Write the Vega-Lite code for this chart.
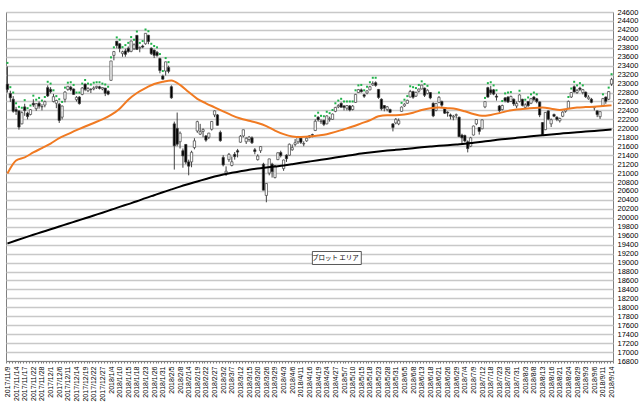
{
  "$schema": "https://vega.github.io/schema/vega-lite/v6.json",
  "width": 607,
  "height": 349,
  "autosize": {"type": "none"},
  "padding": {"left": 6, "top": 12, "right": 31, "bottom": 59},
  "background": "white",
  "config": {
    "view": {"stroke": "#808080", "strokeWidth": 1},
    "font": "Liberation Sans"
  },
  "datasets": {
    "k": [
{"d":"2017/11/9","o":22990,"h":23382,"l":22800,"c":22869,"m1":20990,"m2":19426,"g":23462},
{"d":"2017/11/10","o":22780,"h":22840,"l":22590,"c":22681,"g":22920},
{"d":"2017/11/13","o":22650,"h":22720,"l":22350,"c":22381,"g":22800},
{"d":"2017/11/14","o":22420,"h":22480,"l":22300,"c":22380,"m1":21280,"m2":19493,"g":22560},
{"d":"2017/11/15","o":22390,"h":22400,"l":21970,"c":22028,"g":22480},
{"d":"2017/11/16","o":22100,"h":22380,"l":22090,"c":22351,"g":22460},
{"d":"2017/11/17","o":22480,"h":22550,"l":22280,"c":22397,"m1":21350,"m2":19558,"g":22630},
{"d":"2017/11/20","o":22340,"h":22370,"l":22200,"c":22262,"g":22450},
{"d":"2017/11/21","o":22310,"h":22430,"l":22290,"c":22416,"g":22510},
{"d":"2017/11/22","o":22560,"h":22650,"l":22480,"c":22523,"m1":21460,"m2":19620,"g":22730},
{"d":"2017/11/24","o":22440,"h":22560,"l":22390,"c":22551,"g":22640},
{"d":"2017/11/27","o":22560,"h":22600,"l":22440,"c":22496,"g":22680},
{"d":"2017/11/28","o":22480,"h":22540,"l":22400,"c":22486,"m1":21560,"m2":19683,"g":22620},
{"d":"2017/11/29","o":22520,"h":22620,"l":22470,"c":22597,"g":22700},
{"d":"2017/11/30","o":22910,"h":22960,"l":22700,"c":22725,"g":23040},
{"d":"2017/12/1","o":22870,"h":22920,"l":22780,"c":22819,"m1":21660,"m2":19743,"g":23000},
{"d":"2017/12/4","o":22600,"h":22770,"l":22580,"c":22707,"g":22850},
{"d":"2017/12/5","o":22560,"h":22640,"l":22450,"c":22622,"g":22720},
{"d":"2017/12/6","o":22540,"h":22570,"l":22120,"c":22177,"m1":21780,"m2":19806,"g":22650},
{"d":"2017/12/7","o":22250,"h":22510,"l":22200,"c":22498,"g":22590},
{"d":"2017/12/8","o":22650,"h":22830,"l":22580,"c":22811,"g":22910},
{"d":"2017/12/11","o":22870,"h":22940,"l":22840,"c":22939,"m1":21870,"m2":19866,"g":23020},
{"d":"2017/12/12","o":22920,"h":22950,"l":22830,"c":22866,"g":23030},
{"d":"2017/12/13","o":22880,"h":22890,"l":22750,"c":22758,"g":22970},
{"d":"2017/12/14","o":22640,"h":22720,"l":22600,"c":22694,"m1":21960,"m2":19929,"g":22800},
{"d":"2017/12/15","o":22700,"h":22720,"l":22530,"c":22553,"g":22800},
{"d":"2017/12/18","o":22760,"h":22920,"l":22740,"c":22902,"g":23000},
{"d":"2017/12/19","o":22990,"h":23000,"l":22830,"c":22868,"m1":22040,"m2":19989,"g":23080},
{"d":"2017/12/20","o":22840,"h":22920,"l":22810,"c":22892,"g":23000},
{"d":"2017/12/21","o":22870,"h":22900,"l":22790,"c":22866,"g":22980},
{"d":"2017/12/22","o":22880,"h":22940,"l":22850,"c":22903,"m1":22120,"m2":20052,"g":23020},
{"d":"2017/12/25","o":22910,"h":22950,"l":22880,"c":22939,"g":23030},
{"d":"2017/12/26","o":22930,"h":22950,"l":22870,"c":22893,"g":23030},
{"d":"2017/12/27","o":22880,"h":22920,"l":22850,"c":22911,"m1":22200,"m2":20114,"g":23000},
{"d":"2017/12/28","o":22900,"h":22900,"l":22720,"c":22784,"g":22980},
{"d":"2017/12/29","o":22830,"h":22850,"l":22740,"c":22765,"g":22930},
{"d":"2018/1/4","o":23073,"h":23506,"l":23065,"c":23506,"m1":22300,"m2":20179,"g":23586},
{"d":"2018/1/5","o":23630,"h":23730,"l":23520,"c":23715,"g":23810},
{"d":"2018/1/9","o":23948,"h":23952,"l":23789,"c":23850,"g":24032},
{"d":"2018/1/10","o":23890,"h":23900,"l":23700,"c":23788,"m1":22440,"m2":20244,"g":23980},
{"d":"2018/1/11","o":23670,"h":23735,"l":23600,"c":23710,"g":23815},
{"d":"2018/1/12","o":23730,"h":23780,"l":23600,"c":23654,"g":23860},
{"d":"2018/1/15","o":23790,"h":23830,"l":23690,"c":23715,"m1":22640,"m2":20306,"g":23910},
{"d":"2018/1/16","o":23720,"h":23960,"l":23700,"c":23952,"g":24040},
{"d":"2018/1/17","o":23780,"h":23900,"l":23750,"c":23868,"g":23980},
{"d":"2018/1/18","o":24078,"h":24084,"l":23750,"c":23763,"m1":22790,"m2":20369,"g":24164},
{"d":"2018/1/19","o":23790,"h":23830,"l":23700,"c":23808,"g":23910},
{"d":"2018/1/22","o":23840,"h":23870,"l":23790,"c":23816,"g":23950},
{"d":"2018/1/23","o":23890,"h":24129,"l":23870,"c":24124,"m1":22900,"m2":20440,"g":24209},
{"d":"2018/1/24","o":24080,"h":24090,"l":23880,"c":23941,"g":24170},
{"d":"2018/1/25","o":23790,"h":23810,"l":23640,"c":23669,"g":23890},
{"d":"2018/1/26","o":23750,"h":23760,"l":23570,"c":23632,"m1":22990,"m2":20505,"g":23840},
{"d":"2018/1/29","o":23700,"h":23730,"l":23600,"c":23629,"g":23810},
{"d":"2018/1/30","o":23560,"h":23580,"l":23230,"c":23292,"g":23660},
{"d":"2018/1/31","o":23170,"h":23200,"l":23090,"c":23098,"m1":23040,"m2":20570,"g":23280},
{"d":"2018/2/1","o":23280,"h":23490,"l":23180,"c":23486,"g":23570},
{"d":"2018/2/2","o":23360,"h":23400,"l":23230,"c":23274,"g":23480},
{"d":"2018/2/5","o":22930,"h":22960,"l":22660,"c":22682,"m1":23070,"m2":20635},
{"d":"2018/2/6","o":22100,"h":22150,"l":21078,"c":21610},
{"d":"2018/2/7","o":22000,"h":22353,"l":21600,"c":21645},
{"d":"2018/2/8","o":21700,"h":21930,"l":21550,"c":21891,"m1":22970,"m2":20698},
{"d":"2018/2/9","o":21500,"h":21550,"l":21120,"c":21383},
{"d":"2018/2/13","o":21640,"h":21650,"l":21200,"c":21245},
{"d":"2018/2/14","o":21250,"h":21300,"l":20950,"c":21154,"m1":22810,"m2":20756},
{"d":"2018/2/15","o":21250,"h":21500,"l":21130,"c":21465},
{"d":"2018/2/16","o":21570,"h":21780,"l":21530,"c":21720},
{"d":"2018/2/19","o":21940,"h":22170,"l":21900,"c":22149,"m1":22660,"m2":20812},
{"d":"2018/2/20","o":21870,"h":22100,"l":21850,"c":21925},
{"d":"2018/2/21","o":21930,"h":22000,"l":21800,"c":21971},
{"d":"2018/2/22","o":21830,"h":21850,"l":21700,"c":21736,"m1":22560,"m2":20868},
{"d":"2018/2/23","o":21800,"h":21900,"l":21760,"c":21893},
{"d":"2018/2/26","o":21980,"h":22160,"l":21950,"c":22154},
{"d":"2018/2/27","o":22300,"h":22400,"l":22250,"c":22390,"m1":22470,"m2":20923},
{"d":"2018/2/28","o":22300,"h":22320,"l":22060,"c":22068},
{"d":"2018/3/1","o":21910,"h":21950,"l":21700,"c":21724},
{"d":"2018/3/2","o":21350,"h":21400,"l":21150,"c":21182,"m1":22380,"m2":20970},
{"d":"2018/3/5","o":21000,"h":21150,"l":20937,"c":21042},
{"d":"2018/3/6","o":21300,"h":21450,"l":21250,"c":21418},
{"d":"2018/3/7","o":21170,"h":21370,"l":21150,"c":21253,"m1":22290,"m2":21006},
{"d":"2018/3/8","o":21420,"h":21470,"l":21300,"c":21368},
{"d":"2018/3/9","o":21500,"h":21540,"l":21350,"c":21469},
{"d":"2018/3/12","o":21690,"h":21850,"l":21680,"c":21824,"m1":22220,"m2":21040},
{"d":"2018/3/13","o":21830,"h":21970,"l":21800,"c":21968},
{"d":"2018/3/14","o":21700,"h":21800,"l":21650,"c":21777},
{"d":"2018/3/15","o":21750,"h":21830,"l":21700,"c":21804,"m1":22170,"m2":21075},
{"d":"2018/3/16","o":21790,"h":21820,"l":21650,"c":21677},
{"d":"2018/3/19","o":21520,"h":21560,"l":21420,"c":21481},
{"d":"2018/3/20","o":21300,"h":21420,"l":21280,"c":21381,"m1":22120,"m2":21102},
{"d":"2018/3/22","o":21500,"h":21600,"l":21450,"c":21592},
{"d":"2018/3/23","o":21200,"h":21230,"l":20617,"c":20617},
{"d":"2018/3/26","o":20500,"h":20770,"l":20347,"c":20766,"m1":22050,"m2":21125},
{"d":"2018/3/27","o":21000,"h":21320,"l":20950,"c":21317},
{"d":"2018/3/28","o":21200,"h":21230,"l":20900,"c":21031},
{"d":"2018/3/29","o":20900,"h":21180,"l":20880,"c":21159,"m1":21950,"m2":21147},
{"d":"2018/3/30","o":21300,"h":21460,"l":21290,"c":21454},
{"d":"2018/4/2","o":21460,"h":21500,"l":21350,"c":21389},
{"d":"2018/4/3","o":21100,"h":21300,"l":21050,"c":21292,"m1":21870,"m2":21169},
{"d":"2018/4/4","o":21400,"h":21420,"l":21250,"c":21320},
{"d":"2018/4/5","o":21400,"h":21660,"l":21390,"c":21645},
{"d":"2018/4/6","o":21520,"h":21640,"l":21500,"c":21568,"m1":21820,"m2":21198},
{"d":"2018/4/9","o":21640,"h":21760,"l":21600,"c":21678},
{"d":"2018/4/10","o":21700,"h":21830,"l":21650,"c":21794},
{"d":"2018/4/11","o":21780,"h":21800,"l":21650,"c":21687,"m1":21806,"m2":21230},
{"d":"2018/4/12","o":21650,"h":21710,"l":21600,"c":21660},
{"d":"2018/4/13","o":21720,"h":21800,"l":21700,"c":21779},
{"d":"2018/4/16","o":21800,"h":21850,"l":21780,"c":21836,"m1":21815,"m2":21259},
{"d":"2018/4/17","o":21860,"h":21880,"l":21800,"c":21848},
{"d":"2018/4/18","o":21950,"h":22200,"l":21940,"c":22158,"g":22280},
{"d":"2018/4/19","o":22250,"h":22270,"l":22150,"c":22191,"m1":21840,"m2":21288,"g":22350},
{"d":"2018/4/20","o":22150,"h":22200,"l":22100,"c":22162,"g":22280},
{"d":"2018/4/23","o":22180,"h":22190,"l":22050,"c":22088,"g":22270},
{"d":"2018/4/24","o":22100,"h":22290,"l":22090,"c":22278,"m1":21870,"m2":21317,"g":22370},
{"d":"2018/4/25","o":22200,"h":22260,"l":22150,"c":22215,"g":22340},
{"d":"2018/4/26","o":22200,"h":22330,"l":22190,"c":22320,"g":22410},
{"d":"2018/4/27","o":22380,"h":22480,"l":22360,"c":22468,"m1":21920,"m2":21348,"g":22560},
{"d":"2018/5/1","o":22480,"h":22540,"l":22450,"c":22508,"g":22620},
{"d":"2018/5/2","o":22560,"h":22580,"l":22460,"c":22473,"g":22660},
{"d":"2018/5/7","o":22500,"h":22520,"l":22400,"c":22467,"m1":21980,"m2":21377,"g":22600},
{"d":"2018/5/8","o":22450,"h":22520,"l":22400,"c":22509,"g":22600},
{"d":"2018/5/9","o":22500,"h":22520,"l":22380,"c":22409,"g":22600},
{"d":"2018/5/10","o":22420,"h":22520,"l":22400,"c":22497,"m1":22040,"m2":21406,"g":22600},
{"d":"2018/5/11","o":22580,"h":22770,"l":22570,"c":22758,"g":22850},
{"d":"2018/5/14","o":22800,"h":22880,"l":22790,"c":22866,"g":22960},
{"d":"2018/5/15","o":22860,"h":22890,"l":22800,"c":22818,"m1":22110,"m2":21435,"g":22970},
{"d":"2018/5/16","o":22750,"h":22770,"l":22680,"c":22717,"g":22850},
{"d":"2018/5/17","o":22790,"h":22850,"l":22760,"c":22838,"g":22930},
{"d":"2018/5/18","o":22860,"h":22950,"l":22850,"c":22930,"m1":22180,"m2":21460,"g":23030},
{"d":"2018/5/21","o":22970,"h":23050,"l":22950,"c":23002,"g":23130},
{"d":"2018/5/22","o":23020,"h":23050,"l":22930,"c":22960,"g":23130},
{"d":"2018/5/23","o":22870,"h":22880,"l":22660,"c":22690,"m1":22270,"m2":21482},
{"d":"2018/5/24","o":22650,"h":22670,"l":22400,"c":22437},
{"d":"2018/5/25","o":22510,"h":22520,"l":22380,"c":22451},
{"d":"2018/5/28","o":22420,"h":22500,"l":22380,"c":22481,"m1":22295,"m2":21502},
{"d":"2018/5/29","o":22420,"h":22440,"l":22340,"c":22358},
{"d":"2018/5/30","o":22100,"h":22110,"l":21931,"c":22019},
{"d":"2018/5/31","o":22120,"h":22230,"l":22090,"c":22202,"m1":22292,"m2":21520},
{"d":"2018/6/1","o":22100,"h":22220,"l":22070,"c":22171},
{"d":"2018/6/4","o":22380,"h":22490,"l":22370,"c":22476,"g":22570},
{"d":"2018/6/5","o":22500,"h":22560,"l":22480,"c":22540,"m1":22310,"m2":21538,"g":22640},
{"d":"2018/6/6","o":22560,"h":22640,"l":22550,"c":22626,"g":22720},
{"d":"2018/6/7","o":22700,"h":22860,"l":22690,"c":22823,"g":22940},
{"d":"2018/6/8","o":22820,"h":22840,"l":22660,"c":22695,"m1":22350,"m2":21556,"g":22920},
{"d":"2018/6/11","o":22720,"h":22820,"l":22700,"c":22804,"g":22900},
{"d":"2018/6/12","o":22830,"h":22890,"l":22800,"c":22878,"g":22970},
{"d":"2018/6/13","o":22880,"h":22970,"l":22870,"c":22966,"m1":22410,"m2":21576,"g":23050},
{"d":"2018/6/14","o":22900,"h":22910,"l":22700,"c":22739,"g":22990},
{"d":"2018/6/15","o":22780,"h":22870,"l":22760,"c":22852,"g":22950},
{"d":"2018/6/18","o":22800,"h":22810,"l":22650,"c":22680,"m1":22450,"m2":21594},
{"d":"2018/6/19","o":22560,"h":22580,"l":22250,"c":22278},
{"d":"2018/6/20","o":22400,"h":22570,"l":22380,"c":22555},
{"d":"2018/6/21","o":22580,"h":22720,"l":22560,"c":22693,"m1":22463,"m2":21610,"g":22800},
{"d":"2018/6/22","o":22600,"h":22620,"l":22480,"c":22517},
{"d":"2018/6/25","o":22440,"h":22450,"l":22320,"c":22338},
{"d":"2018/6/26","o":22360,"h":22380,"l":22260,"c":22342,"m1":22450,"m2":21623},
{"d":"2018/6/27","o":22300,"h":22330,"l":22200,"c":22272},
{"d":"2018/6/28","o":22250,"h":22300,"l":22180,"c":22270},
{"d":"2018/6/29","o":22290,"h":22330,"l":22220,"c":22305,"m1":22430,"m2":21639},
{"d":"2018/7/2","o":22250,"h":22260,"l":21810,"c":21812},
{"d":"2018/7/3","o":21850,"h":21880,"l":21660,"c":21786},
{"d":"2018/7/4","o":21840,"h":21860,"l":21690,"c":21717,"m1":22380,"m2":21654},
{"d":"2018/7/5","o":21700,"h":21730,"l":21462,"c":21547},
{"d":"2018/7/6","o":21600,"h":21810,"l":21580,"c":21788},
{"d":"2018/7/9","o":21850,"h":22060,"l":21840,"c":22052,"m1":22320,"m2":21677},
{"d":"2018/7/10","o":22100,"h":22200,"l":22070,"c":22197},
{"d":"2018/7/11","o":22020,"h":22030,"l":21860,"c":21932},
{"d":"2018/7/12","o":21990,"h":22200,"l":21980,"c":22188,"m1":22280,"m2":21701},
{"d":"2018/7/13","o":22480,"h":22600,"l":22450,"c":22597,"g":22680},
{"d":"2018/7/17","o":22910,"h":22930,"l":22690,"c":22698,"g":23010},
{"d":"2018/7/18","o":22860,"h":22950,"l":22750,"c":22794,"m1":22300,"m2":21724,"g":23030},
{"d":"2018/7/19","o":22860,"h":22880,"l":22740,"c":22765,"g":22960},
{"d":"2018/7/20","o":22720,"h":22770,"l":22620,"c":22697,"g":22850},
{"d":"2018/7/23","o":22500,"h":22520,"l":22350,"c":22397,"m1":22340,"m2":21748},
{"d":"2018/7/24","o":22420,"h":22530,"l":22400,"c":22510,"g":22610},
{"d":"2018/7/25","o":22680,"h":22700,"l":22580,"c":22614,"g":22780},
{"d":"2018/7/26","o":22700,"h":22720,"l":22570,"c":22587,"m1":22390,"m2":21768,"g":22800},
{"d":"2018/7/27","o":22600,"h":22730,"l":22590,"c":22713,"g":22810},
{"d":"2018/7/30","o":22650,"h":22670,"l":22500,"c":22545},
{"d":"2018/7/31","o":22500,"h":22600,"l":22450,"c":22554,"m1":22420,"m2":21788},
{"d":"2018/8/1","o":22600,"h":22760,"l":22580,"c":22747,"g":22840},
{"d":"2018/8/2","o":22650,"h":22660,"l":22490,"c":22513},
{"d":"2018/8/3","o":22470,"h":22560,"l":22450,"c":22525,"m1":22440,"m2":21808,"g":22640},
{"d":"2018/8/6","o":22600,"h":22610,"l":22480,"c":22507,"g":22690},
{"d":"2018/8/7","o":22560,"h":22680,"l":22540,"c":22663,"g":22760},
{"d":"2018/8/8","o":22700,"h":22720,"l":22610,"c":22644,"m1":22455,"m2":21826,"g":22800},
{"d":"2018/8/9","o":22660,"h":22680,"l":22560,"c":22598,"g":22760},
{"d":"2018/8/10","o":22590,"h":22600,"l":22250,"c":22298},
{"d":"2018/8/13","o":22130,"h":22140,"l":21851,"c":21857,"m1":22463,"m2":21844},
{"d":"2018/8/14","o":21970,"h":22360,"l":21960,"c":22356},
{"d":"2018/8/15","o":22390,"h":22400,"l":22180,"c":22204},
{"d":"2018/8/16","o":22100,"h":22220,"l":22030,"c":22192,"m1":22440,"m2":21862},
{"d":"2018/8/17","o":22310,"h":22330,"l":22250,"c":22270},
{"d":"2018/8/20","o":22250,"h":22270,"l":22160,"c":22199},
{"d":"2018/8/21","o":22170,"h":22240,"l":22130,"c":22220,"m1":22410,"m2":21880},
{"d":"2018/8/22","o":22270,"h":22380,"l":22250,"c":22363},
{"d":"2018/8/23","o":22380,"h":22430,"l":22350,"c":22411},
{"d":"2018/8/24","o":22450,"h":22620,"l":22440,"c":22602,"m1":22440,"m2":21898,"g":22700},
{"d":"2018/8/27","o":22700,"h":22810,"l":22680,"c":22800,"g":22890},
{"d":"2018/8/28","o":22930,"h":22960,"l":22800,"c":22813,"g":23040},
{"d":"2018/8/29","o":22800,"h":22880,"l":22770,"c":22848,"m1":22463,"m2":21913,"g":22960},
{"d":"2018/8/30","o":22900,"h":22930,"l":22830,"c":22870,"g":23010},
{"d":"2018/8/31","o":22800,"h":22880,"l":22760,"c":22865,"g":22960},
{"d":"2018/9/3","o":22810,"h":22820,"l":22680,"c":22707,"m1":22475,"m2":21929},
{"d":"2018/9/4","o":22660,"h":22740,"l":22640,"c":22697},
{"d":"2018/9/5","o":22650,"h":22680,"l":22560,"c":22581},
{"d":"2018/9/6","o":22460,"h":22500,"l":22400,"c":22488,"m1":22485,"m2":21943},
{"d":"2018/9/7","o":22390,"h":22400,"l":22250,"c":22307},
{"d":"2018/9/10","o":22260,"h":22380,"l":22210,"c":22373},
{"d":"2018/9/11","o":22500,"h":22680,"l":22480,"c":22665,"m1":22500,"m2":21958,"g":22760},
{"d":"2018/9/12","o":22700,"h":22710,"l":22550,"c":22605},
{"d":"2018/9/13","o":22650,"h":22830,"l":22630,"c":22821,"g":22910},
{"d":"2018/9/14","o":22990,"h":23130,"l":22950,"c":23095,"m1":22515,"m2":21974,"g":23210}
    ],
    "tip": [{"a":"2018/4/17","b":"2018/5/15","d":"2018/4/27","y1":19247,"y2":18957,"yt":19102,"t":"プロット エリア"}]
  },
  "data": {"name": "k"},
  "layer": [
    {
      "mark": {"type": "rule", "color": "#404040", "strokeWidth": 1},
      "encoding": {
        "x": {
          "field": "d", "type": "ordinal", "sort": null,
          "scale": {"type": "band", "paddingInner": 0, "paddingOuter": 0},
          "axis": {
            "title": null, "orient": "bottom", "grid": false,
            "domain": true, "domainColor": "#808080",
            "ticks": true, "tickSize": 2, "tickColor": "#808080", "tickBand": "extent",
            "labelAngle": 270, "labelFontSize": 7, "labelColor": "#000000",
            "labelPadding": 3, "labelOverlap": false, "labelBound": false,
            "labelFont": "Liberation Sans",
            "labelExpr": "round(datum.index * 210) % 3 === 0 ? datum.label : ''"
          }
        },
        "y": {
          "field": "l", "type": "quantitative",
          "scale": {"domain": [16800, 24600], "nice": false, "zero": false},
          "axis": {
            "title": null, "orient": "right", "grid": true, "gridColor": "#c8c8c8", "gridWidth": 1.4,
            "domain": false, "ticks": false, "labelFontSize": 7.5, "labelColor": "#000000",
            "labelPadding": 4, "format": "d", "labelFont": "Liberation Sans",
            "labelOverlap": false, "labelBound": false, "labelFlush": false,
            "tickCount": 100,
            "values": [16800,17000,17200,17400,17600,17800,18000,18200,18400,18600,18800,19000,19200,19400,19600,19800,20000,20200,20400,20600,20800,21000,21200,21400,21600,21800,22000,22200,22400,22600,22800,23000,23200,23400,23600,23800,24000,24200,24400,24600]
          }
        },
        "y2": {"field": "h"}
      }
    },
    {
      "mark": {"type": "bar", "width": {"band": 0.8}, "stroke": "#404040", "strokeWidth": 0.7},
      "encoding": {
        "x": {"field": "d", "type": "ordinal", "sort": null},
        "y": {"field": "o", "type": "quantitative"},
        "y2": {"field": "c"},
        "fill": {"condition": {"test": "datum.c >= datum.o", "value": "#ffffff"}, "value": "#000000"}
      }
    },
    {
      "transform": [{"filter": "isValid(datum.m1)"}],
      "mark": {"type": "line", "color": "#F07A22", "strokeWidth": 2, "interpolate": "monotone"},
      "encoding": {
        "x": {"field": "d", "type": "ordinal", "sort": null},
        "y": {"field": "m1", "type": "quantitative"}
      }
    },
    {
      "transform": [{"filter": "isValid(datum.m2)"}],
      "mark": {"type": "line", "color": "#000000", "strokeWidth": 2, "interpolate": "monotone"},
      "encoding": {
        "x": {"field": "d", "type": "ordinal", "sort": null},
        "y": {"field": "m2", "type": "quantitative"}
      }
    },
    {
      "transform": [{"filter": "isValid(datum.g)"}],
      "mark": {"type": "square", "size": 4, "filled": true, "color": "#21B24B", "opacity": 1},
      "encoding": {
        "x": {"field": "d", "type": "ordinal", "sort": null},
        "y": {"field": "g", "type": "quantitative"}
      }
    },
    {
      "data": {"name": "tip"},
      "mark": {"type": "rect", "fill": "#ffffff", "stroke": "#303030", "strokeWidth": 0.8},
      "encoding": {
        "x": {"field": "a", "type": "ordinal", "sort": null},
        "x2": {"field": "b"},
        "y": {"field": "y1", "type": "quantitative"},
        "y2": {"field": "y2"}
      }
    },
    {
      "data": {"name": "tip"},
      "mark": {"type": "text", "font": "Noto Sans CJK JP", "fontSize": 6.5, "color": "#000000", "align": "center", "baseline": "middle"},
      "encoding": {
        "x": {"field": "d", "type": "ordinal", "sort": null},
        "y": {"field": "yt", "type": "quantitative"},
        "text": {"field": "t"}
      }
    }
  ]
}
